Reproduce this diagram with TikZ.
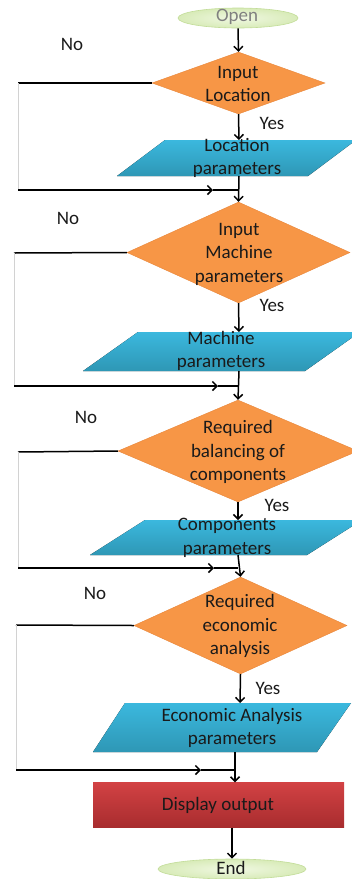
\documentclass[tikz,border=0pt]{standalone}
\usepackage{fontspec}
\setmainfont{Carlito}
\usetikzlibrary{shapes.geometric,arrows.meta}
\definecolor{dorange}{HTML}{F79646}
\definecolor{dorangeb}{HTML}{E8863A}
\definecolor{pblueT}{HTML}{3BB8DE}
\definecolor{pblueB}{HTML}{2E97B5}
\definecolor{redT}{HTML}{D24244}
\definecolor{redB}{HTML}{A82C2E}
\definecolor{greenIn}{HTML}{F0F8E2}
\definecolor{greenOut}{HTML}{D8EBB8}
\definecolor{greenBd}{HTML}{C2DC98}
\definecolor{txt}{HTML}{1A1A1A}
\begin{document}
\begin{tikzpicture}[x=1pt,y=-1pt,
  lbl/.style={font=\fontsize{19}{23.5}\selectfont, text=txt, align=center, inner sep=0pt},
  dia/.style={diamond, fill=dorange, draw=dorangeb, line width=0.4pt, inner sep=0pt},
  term/.style={ellipse, inner color=greenIn, outer color=greenOut, draw=greenBd, line width=0.6pt, inner sep=0pt},
  outbox/.style={rectangle, top color=redT, bottom color=redB, inner sep=0pt},
  parafill/.style={top color=pblueT, bottom color=pblueB},
  conn/.style={draw=black, line width=1.5pt},
  arr/.style={draw=black, line width=1.5pt, -{Straight Barb[length=4.5pt,width=9pt,line width=1.5pt]}},
  faint/.style={draw=gray!35, line width=0.8pt}
]
\useasboundingbox (0,0) rectangle (352,879);

% terminals
\node[term, minimum width=120pt, minimum height=20pt] (open) at (238,18) {};
\node[lbl, text=gray] (opent) at (237,17) {Open};

% decision 1
\node[dia, minimum width=173pt, minimum height=62pt] (d1) at (238.5,83) {};
\node[lbl] (d1t) at (238,84) {Input\\Location};
% para 1
\fill[parafill] (165,140) -- (356,140) -- (308,176) -- (117,176) -- cycle;
\node[lbl] (p1t) at (237,158) {Location\\parameters};
\coordinate (p1top) at (239,140);
\coordinate (p1bot) at (239,176);

% decision 2
\node[dia, minimum width=223pt, minimum height=101pt] (d2) at (238.5,252.5) {};
\node[lbl] (d2t) at (239,254) {Input\\Machine\\parameters};
% para 2
\fill[parafill] (138,332) -- (360,332) -- (305,371) -- (83,371) -- cycle;
\node[lbl] (p2t) at (221,351) {Machine\\parameters};
\coordinate (p2top) at (239,332);
\coordinate (p2bot) at (239,371);

% decision 3
\node[dia, minimum width=240pt, minimum height=102pt] (d3) at (238,451) {};
\node[lbl] (d3t) at (238,452) {Required\\balancing of\\components};
% para 3
\fill[parafill] (145,520) -- (362,520) -- (307,555) -- (90,555) -- cycle;
\node[lbl] (p3t) at (227,538) {Components\\parameters};
\coordinate (p3top) at (238,520);
\coordinate (p3bot) at (238,555);

% decision 4
\node[dia, minimum width=213pt, minimum height=97pt] (d4) at (240.5,625.5) {};
\node[lbl] (d4t) at (240,626) {Required\\economic\\analysis};
% para 4
\fill[parafill] (125,703) -- (351,703) -- (317,752) -- (93,752) -- cycle;
\node[lbl] (p4t) at (232,728) {Economic Analysis\\parameters};
\coordinate (p4top) at (240,703);
\coordinate (p4bot) at (235,752);

% output
\node[outbox, minimum width=251pt, minimum height=45pt] (disp) at (218.5,805) {};
\node[lbl] (dispt) at (218,805) {Display output};

\node[term, minimum width=148pt, minimum height=20pt] (end) at (232,869) {};
\node[lbl] (endt) at (231,868) {End};

% labels
\node[lbl] (y1) at (272,123) {Yes};
\node[lbl] (y2) at (272,305) {Yes};
\node[lbl] (y3) at (277,505) {Yes};
\node[lbl] (y4) at (268,688) {Yes};
\node[lbl] (n1) at (72,44) {No};
\node[lbl] (n2) at (68,218) {No};
\node[lbl] (n3) at (86,417) {No};
\node[lbl] (n4) at (95,593) {No};

% main flow
\draw[arr] (open.south) -- (d1.north);
\draw[arr] (d1.south) -- (p1top);
\draw[arr] (p1bot) -- (d2.north);
\draw[arr] (d2.south) -- (p2top);
\draw[arr] (p2bot) -- (d3.north);
\draw[arr] (d3.south) -- (p3top);
\draw[arr] (p3bot) -- (d4.north);
\draw[arr] (d4.south) -- (p4top);
\draw[arr] (p4bot) -- (disp.north -| p4bot);
\draw[arr] (disp.south -| end.north) -- (end.north);

% loops
\coordinate (l1a) at (18,83);  \coordinate (l1b) at (18,190);  \coordinate (l1c) at (213,190); \coordinate (j1) at (239,190);
\coordinate (l2a) at (14,253); \coordinate (l2b) at (14,386);  \coordinate (l2c) at (218,386); \coordinate (j2) at (239,386);
\coordinate (l3a) at (18,452); \coordinate (l3b) at (18,568);  \coordinate (l3c) at (214,568); \coordinate (j3) at (238,568);
\coordinate (l4a) at (16,625); \coordinate (l4b) at (16,770);  \coordinate (l4c) at (201,770); \coordinate (j4) at (235,770);

\foreach \d/\i in {d1/1,d2/2,d3/3,d4/4}{
  \draw[conn] (\d.west) -- (l\i a);
  \draw[faint] (l\i a) -- (l\i b);
  \draw[arr] (l\i b) -- (l\i c);
  \draw[conn] (l\i c) -- (j\i);
}
\end{tikzpicture}
\end{document}
